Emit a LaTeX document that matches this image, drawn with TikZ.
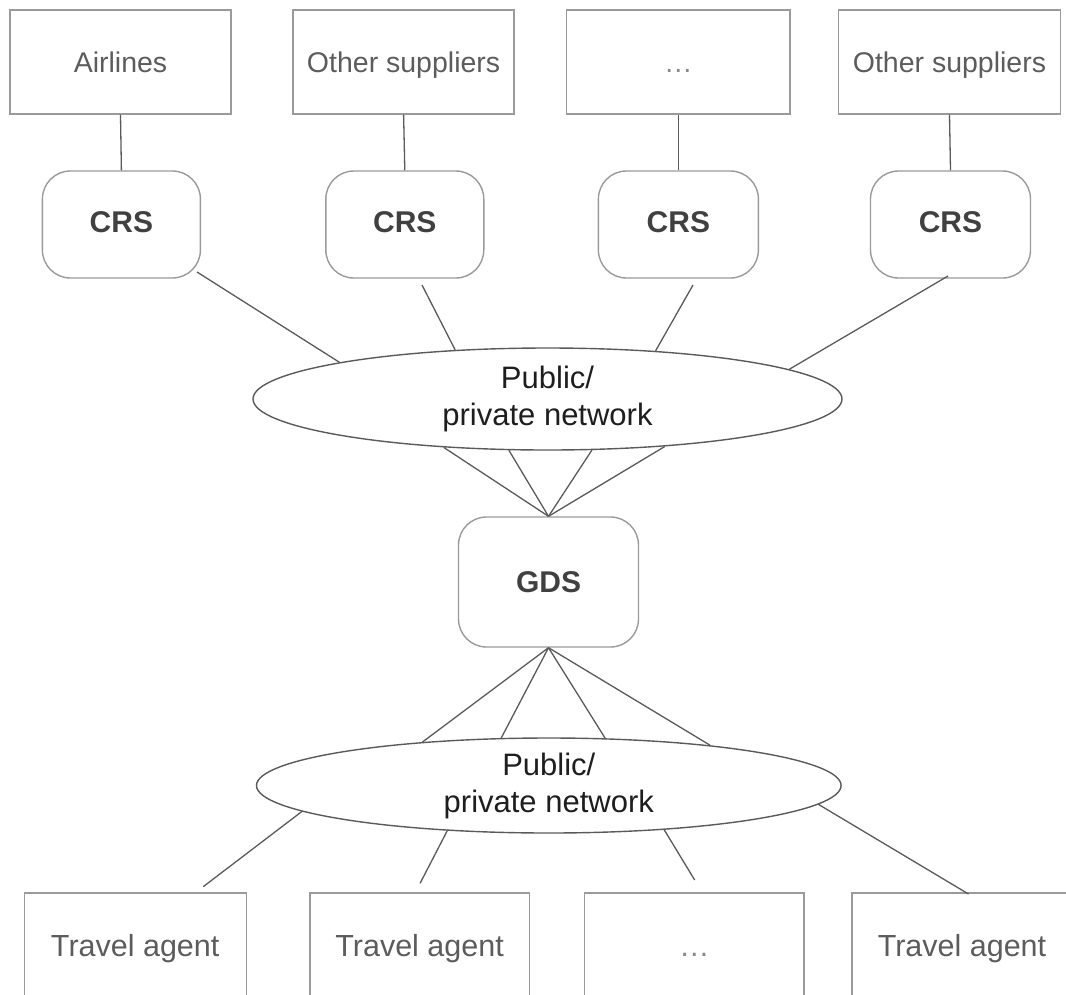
\documentclass[tikz,border=0pt]{standalone}
\usepackage{fontspec}
\setmainfont{Liberation Sans}
\usetikzlibrary{shapes.geometric}
\definecolor{edgegray}{HTML}{9A9A9A}
\definecolor{wiregray}{HTML}{5A5A5A}
\definecolor{labelgray}{HTML}{5C5C5C}
\definecolor{boldgray}{HTML}{404040}
\definecolor{netink}{HTML}{1E1E1E}
\definecolor{dotgray}{HTML}{8A8A8A}

\begin{document}
\begin{tikzpicture}[x=1pt,y=-1pt,
  supplier/.style={draw=edgegray, line width=1.4pt, minimum width=221pt,
    minimum height=104pt, inner sep=0pt, text=labelgray,
    font=\fontsize{28.5}{34}\selectfont, text height=20.5pt, text depth=0pt},
  agent/.style={supplier, font=\fontsize{30.5}{36}\selectfont,
    text height=22pt},
  hub/.style={draw=edgegray, line width=1.4pt, rounded corners=28pt,
    inner sep=0pt, text=boldgray, font=\fontsize{30}{36}\selectfont\bfseries,
    text height=21.6pt, text depth=6pt},
  net/.style={ellipse, draw=wiregray, line width=1.4pt, inner sep=0pt,
    align=center, text=netink, font=\fontsize{31}{37}\selectfont},
  wire/.style={draw=wiregray, line width=1.3pt},
  more/.style={text=dotgray}
]
\useasboundingbox (0,0) rectangle (1066,994);
\clip (0,0) rectangle (1066,994);

% suppliers
\node[supplier] (s1) at (120.5,62) {Airlines};
\node[supplier] (s2) at (403.6,62) {Other suppliers};
\node[supplier, more, minimum width=223.5pt] (s3) at (678.4,62) {…};
\node[supplier, minimum width=222.5pt] (s4) at (949.5,62) {Other suppliers};

% reservation systems
\node[hub, minimum width=158pt, minimum height=107pt] (c1) at (121.4,224.5) {CRS};
\node[hub, minimum width=158pt, minimum height=107pt] (c2) at (404.8,224.5) {CRS};
\node[hub, minimum width=160pt, minimum height=107pt] (c3) at (678.4,224.5) {CRS};
\node[hub, minimum width=160pt, minimum height=107pt] (c4) at (950.5,224.5) {CRS};

% upper network
\node[net, minimum width=589pt, minimum height=102pt] (n1) at (547.5,399)
  {Public/\\private network};

% distribution system
\node[hub, minimum width=180pt, minimum height=130pt, text depth=0pt] (gds)
  at (548.5,582) {GDS};

% lower network
\node[net, minimum width=584.6pt, minimum height=95pt] (n2) at (548.8,785.5)
  {Public/\\private network};

% travel agents
\node[agent, minimum width=222pt] (a1) at (135.2,945) {Travel agent};
\node[agent, minimum width=219.4pt] (a2) at (419.6,945) {Travel agent};
\node[agent, more, minimum width=219.5pt] (a3) at (694.4,945) {…};
\node[agent, minimum width=220pt] (a4) at (962,945) {Travel agent};

% supplier to CRS
\draw[wire] (s1.south) -- (c1.north);
\draw[wire] (s2.south) -- (c2.north);
\draw[wire] (s3.south) -- (c3.north);
\draw[wire] (s4.south) -- (c4.north);

% CRS to upper network
\coordinate (k1) at (197,272);
\coordinate (k2) at (422,285);
\coordinate (k3) at (693,285);
\coordinate (k4) at (948,276);
\draw[wire] (k1) -- (n1.170.7);
\draw[wire] (k2) -- (n1.152.1);
\draw[wire] (k3) -- (n1.24.9);
\draw[wire] (k4) -- (n1.7);

% upper network to GDS
\draw[wire] (n1.205.9) -- (gds.north);
\draw[wire] (n1.233.3) -- (gds.north);
\draw[wire] (n1.311.4) -- (gds.north);
\draw[wire] (n1.338.3) -- (gds.north);

% GDS to lower network
\draw[wire] (gds.south) -- (n2.161.8);
\draw[wire] (gds.south) -- (n2.135.2);
\draw[wire] (gds.south) -- (n2.40.6);
\draw[wire] (gds.south) -- (n2.14.3);

% lower network to travel agents
\coordinate (t1) at (203.2,886.7);
\coordinate (t2) at (420.1,883.3);
\coordinate (t3) at (694.7,880);
\coordinate (t4) at (968.5,894);
\draw[wire] (n2.186.4) -- (t1);
\draw[wire] (n2.204.2) -- (t2);
\draw[wire] (n2.339.2) -- (t3);
\draw[wire] (n2.356) -- (t4);
\end{tikzpicture}
\end{document}
